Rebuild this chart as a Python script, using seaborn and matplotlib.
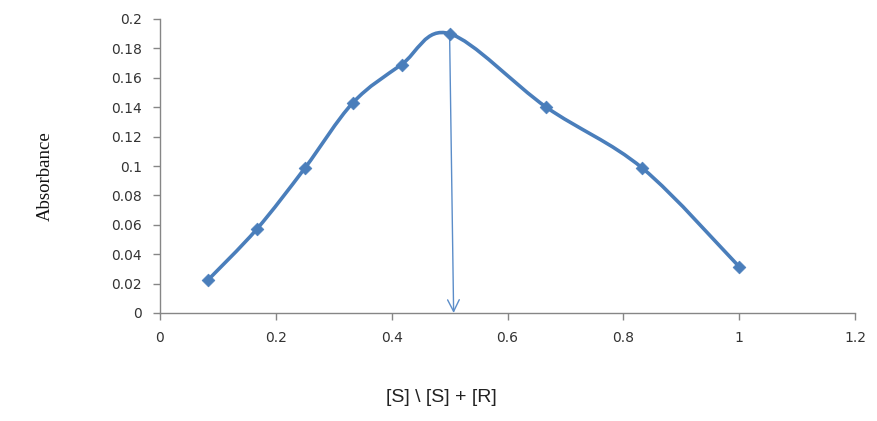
import matplotlib
matplotlib.use("Agg")
import matplotlib.pyplot as plt
import seaborn as sns
import numpy as np
import pandas as pd
from matplotlib.path import Path
from matplotlib.patches import PathPatch

# ---- data ----
mole_fraction = [0.083, 0.167, 0.25, 0.333, 0.417, 0.5, 0.667, 0.833, 1.0]
absorbance = [0.0225, 0.057, 0.0985, 0.143, 0.169, 0.190, 0.140, 0.0985, 0.0315]
x_ticks = [0, 0.2, 0.4, 0.6, 0.8, 1.0, 1.2]
y_ticks = [0, 0.02, 0.04, 0.06, 0.08, 0.1, 0.12, 0.14, 0.16, 0.18, 0.2]
arrow_start = (0.5, 0.190)
arrow_end = (0.507, 0.0)
x_label = "[S] \\ [S] + [R]"
y_label = "Absorbance"

BLUE = "#4A7EBB"
GRAY = "#868686"

sns.set_theme(style="white")
plt.rcParams["font.family"] = ["DejaVu Sans"]

fig = plt.figure(figsize=(8.78, 4.21), dpi=100)
ax = fig.add_axes([160/878, 1-313/421, (855-160)/878, (313-19)/421])

df = pd.DataFrame({"x": mole_fraction, "y": absorbance})

# Smoothed (Excel-style) line built as Bezier path through the data points
pts = np.column_stack([df["x"].to_numpy(), df["y"].to_numpy()])
n = len(pts)
verts = [tuple(pts[0])]
codes = [Path.MOVETO]
for i in range(n - 1):
    p0 = pts[i - 1] if i > 0 else pts[i]
    p1 = pts[i]
    p2 = pts[i + 1]
    p3 = pts[i + 2] if i + 2 < n else pts[i + 1]
    c1 = p1 + (p2 - p0) / 6.0
    c2 = p2 - (p3 - p1) / 6.0
    verts += [tuple(c1), tuple(c2), tuple(p2)]
    codes += [Path.CURVE4] * 3
ax.add_patch(PathPatch(Path(verts, codes), fill=False, edgecolor=BLUE,
                       linewidth=2.6, capstyle="round", joinstyle="round", zorder=3))

sns.scatterplot(data=df, x="x", y="y", marker="D", s=42, color=BLUE,
                edgecolor=BLUE, linewidth=0.5, ax=ax, zorder=4)

ax.annotate("", xy=arrow_end, xytext=arrow_start,
            arrowprops=dict(arrowstyle="->,head_length=0.7,head_width=0.35",
                            color="#5B8DC9", lw=1.0, shrinkA=0, shrinkB=0),
            zorder=2)

ax.set_xlim(0, 1.2)
ax.set_ylim(0, 0.2)
ax.set_xticks(x_ticks)
ax.set_yticks(y_ticks)
ax.set_xticklabels([f"{v:g}" for v in x_ticks])
ax.set_yticklabels([f"{v:g}" for v in y_ticks])

for side in ["top", "right"]:
    ax.spines[side].set_visible(False)
for side in ["left", "bottom"]:
    ax.spines[side].set_color(GRAY)
    ax.spines[side].set_linewidth(1.0)

ax.tick_params(axis="both", which="major", direction="out", length=5, width=1,
               color=GRAY, labelsize=10, labelcolor="#333333", pad=8,
               left=True, bottom=True)
ax.set_xlabel("")
ax.set_ylabel("")
ax.grid(False)

fig.text(441/878, 1-397/421, x_label, ha="center", va="center",
         fontsize=14, family="Liberation Sans", color="#222222")
fig.text(45/878, 1-176/421, y_label, ha="center", va="center", rotation=90,
         fontsize=13.5, family="Liberation Serif", color="#111111")

fig.savefig("out.png", dpi=100)
